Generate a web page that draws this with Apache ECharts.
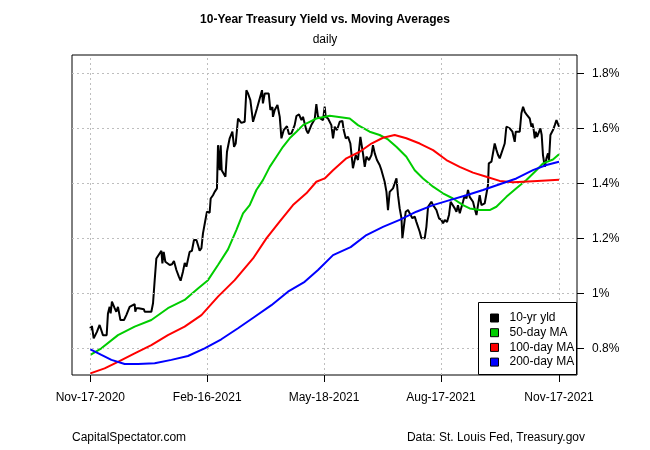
<!DOCTYPE html>
<html><head><meta charset="utf-8">
<script src="https://cdn.jsdelivr.net/npm/echarts@6/dist/echarts.min.js"></script>
<style>html,body{margin:0;padding:0;background:#fff}#c{width:650px;height:450px}</style>
</head><body><div id="c"></div>
<script>
// x values are calendar days since Nov-17-2020
const xTickDays = [0, 91, 182, 273, 365];
const xTickLabels = ['Nov-17-2020', 'Feb-16-2021', 'May-18-2021', 'Aug-17-2021', 'Nov-17-2021'];
const yTicks = [0.8, 1.0, 1.2, 1.4, 1.6, 1.8];
const seriesNames = ['10-yr yld', '50-day MA', '100-day MA', '200-day MA'];
const seriesColors = ['#000000', '#00cd00', '#ff0000', '#0000ff'];

const yld10 = [[0,0.879],[0.8,0.867],[1.2,0.882],[2.6,0.836],[5.1,0.860],[7.2,0.885],[8.6,0.885],[9.8,0.848],[12.7,0.848],[13.7,0.927],[15.0,0.951],[15.8,0.927],[16.8,0.970],[18.9,0.946],[20.2,0.933],[21.5,0.951],[23.4,0.903],[26.2,0.903],[28.0,0.921],[30.6,0.951],[31.9,0.957],[34.5,0.961],[35.0,0.933],[35.8,0.946],[37.6,0.946],[41.7,0.942],[42.3,0.933],[47.5,0.933],[48.8,0.964],[50.1,1.048],[51.4,1.127],[55.3,1.155],[56.1,1.109],[57.1,1.151],[58.4,1.115],[61.8,1.103],[63.6,1.106],[65.1,1.118],[67.0,1.085],[69.0,1.060],[70.3,1.046],[72.1,1.079],[73.5,1.111],[74.8,1.097],[76.0,1.095],[77.3,1.151],[79.1,1.155],[80.7,1.194],[82.6,1.194],[83.8,1.176],[85.1,1.155],[86.5,1.164],[87.7,1.218],[89.6,1.267],[90.8,1.297],[92.9,1.293],[93.7,1.345],[95.5,1.357],[96.8,1.369],[97.6,1.376],[98.6,1.382],[99.4,1.539],[100.7,1.448],[101.5,1.539],[102.3,1.448],[103.8,1.455],[105.2,1.424],[106.4,1.515],[108.5,1.564],[110.6,1.588],[111.9,1.533],[113.2,1.545],[115.0,1.636],[117.6,1.620],[120.2,1.624],[121.5,1.739],[122.8,1.727],[124.6,1.703],[126.7,1.624],[128.0,1.624],[129.8,1.673],[131.9,1.709],[133.7,1.739],[134.4,1.691],[135.8,1.727],[138.9,1.727],[140.2,1.667],[141.8,1.678],[142.2,1.642],[143.6,1.667],[145.7,1.685],[147.5,1.642],[148.8,1.564],[150.6,1.594],[153.1,1.608],[154.7,1.579],[156.6,1.582],[159.1,1.612],[160.5,1.645],[162.5,1.651],[164.4,1.630],[165.6,1.642],[166.9,1.618],[168.2,1.594],[169.5,1.582],[172.1,1.612],[174.7,1.633],[176.0,1.688],[177.3,1.642],[178.6,1.645],[181.2,1.630],[182.5,1.679],[183.3,1.642],[185.1,1.636],[187.7,1.612],[189.0,1.564],[190.3,1.606],[192.1,1.594],[194.2,1.624],[196.3,1.627],[197.3,1.594],[198.9,1.564],[200.7,1.569],[202.5,1.545],[204.5,1.455],[206.7,1.503],[208.4,1.485],[210.3,1.569],[212.3,1.509],[213.7,1.460],[215.0,1.497],[217.0,1.485],[218.9,1.503],[220.1,1.539],[221.5,1.509],[223.2,1.485],[225.3,1.467],[226.7,1.448],[229.2,1.406],[230.6,1.369],[231.8,1.303],[233.1,1.369],[234.5,1.364],[235.7,1.382],[237.0,1.400],[238.4,1.418],[239.6,1.357],[240.9,1.309],[242.3,1.273],[243.0,1.200],[244.0,1.236],[245.6,1.297],[247.4,1.303],[248.7,1.291],[250.8,1.273],[252.6,1.279],[253.9,1.260],[255.2,1.255],[256.5,1.224],[257.8,1.200],[260.4,1.200],[261.7,1.242],[263.0,1.315],[265.6,1.333],[266.9,1.321],[269.5,1.303],[271.5,1.273],[273.4,1.267],[274.7,1.255],[276.0,1.267],[277.8,1.260],[279.3,1.285],[280.6,1.333],[282.0,1.333],[283.8,1.309],[285.1,1.297],[286.3,1.321],[287.7,1.291],[289.0,1.297],[290.2,1.333],[291.6,1.357],[292.9,1.345],[294.1,1.376],[295.4,1.351],[296.8,1.357],[298.0,1.333],[299.3,1.309],[300.7,1.285],[301.9,1.321],[303.2,1.357],[304.6,1.321],[305.8,1.315],[307.1,1.327],[308.5,1.321],[309.7,1.394],[310.3,1.473],[312.4,1.479],[313.6,1.485],[314.9,1.545],[316.3,1.521],[317.5,1.503],[318.8,1.491],[320.1,1.491],[321.4,1.527],[322.7,1.545],[324.0,1.606],[326.6,1.600],[328.7,1.588],[329.7,1.582],[330.5,1.551],[331.3,1.588],[334.4,1.588],[335.7,1.655],[337.0,1.679],[338.3,1.660],[340.1,1.648],[342.2,1.636],[343.5,1.606],[344.3,1.618],[345.3,1.594],[346.1,1.564],[346.9,1.588],[347.9,1.569],[349.4,1.576],[350.5,1.600],[351.5,1.576],[352.5,1.503],[353.9,1.460],[355.2,1.491],[356.4,1.509],[357.2,1.485],[358.3,1.576],[360.3,1.594],[361.7,1.612],[363.0,1.630],[364.2,1.624],[365.0,1.606]];

const ma50 = [[0,0.776],[8.6,0.800],[21.5,0.848],[34.5,0.879],[47.5,0.903],[60.4,0.946],[73.4,0.976],[83.8,1.018],[91.6,1.048],[99.4,1.103],[107.2,1.160],[113.7,1.230],[118.9,1.291],[124.1,1.321],[129.3,1.376],[134.4,1.412],[139.7,1.460],[144.9,1.497],[150.0,1.533],[155.2,1.564],[160.5,1.588],[165.6,1.612],[170.8,1.624],[176.0,1.636],[186.4,1.646],[202.0,1.636],[208.4,1.612],[217.5,1.588],[225.3,1.576],[231.8,1.560],[238.3,1.533],[246.1,1.497],[252.6,1.448],[259.1,1.418],[266.9,1.388],[274.6,1.364],[282.4,1.345],[290.2,1.321],[295.4,1.309],[303.2,1.303],[311.0,1.303],[316.2,1.315],[324.0,1.351],[331.8,1.382],[339.6,1.412],[347.4,1.448],[352.5,1.473],[360.3,1.487],[365.0,1.506]];

const ma100 = [[0,0.709],[11.1,0.727],[21.5,0.751],[34.5,0.782],[47.5,0.812],[60.4,0.848],[73.4,0.879],[86.5,0.921],[99.4,0.988],[112.4,1.048],[126.7,1.127],[137.1,1.200],[147.4,1.261],[157.8,1.321],[168.2,1.364],[176.0,1.406],[182.5,1.418],[189.0,1.448],[199.4,1.491],[209.8,1.515],[218.9,1.545],[227.9,1.566],[237.0,1.576],[246.1,1.564],[256.5,1.545],[266.9,1.521],[277.3,1.485],[287.6,1.460],[298.0,1.439],[308.4,1.424],[318.8,1.409],[329.2,1.404],[344.7,1.408],[365.0,1.413]];

const ma200 = [[0,0.796],[8.6,0.776],[16.4,0.758],[26.7,0.743],[37.1,0.743],[50.1,0.746],[63.1,0.758],[76.0,0.772],[89.0,0.800],[102.0,0.833],[115.0,0.873],[128.0,0.915],[141.0,0.957],[153.9,1.006],[166.9,1.042],[177.3,1.085],[189.0,1.139],[202.7,1.168],[215.0,1.212],[227.9,1.242],[240.9,1.267],[253.9,1.297],[266.9,1.321],[279.9,1.339],[292.9,1.357],[305.8,1.376],[318.8,1.397],[331.8,1.418],[344.7,1.448],[355.2,1.467],[365.0,1.479]];

const FONT = '"Liberation Sans", Arial, Helvetica, sans-serif';
const chart = echarts.init(document.getElementById('c'), null, {renderer: 'canvas'});
const txt = (extra) => Object.assign({fontFamily: FONT, fontSize: 12, color: '#000', fontWeight: 'normal'}, extra || {});
const gridLineData = xTickDays.map(d => ({xAxis: d})).concat(yTicks.map(v => ({yAxis: v})));
const seriesData = [yld10, ma50, ma100, ma200];

const lineSeries = seriesData.map((d, i) => ({
  name: seriesNames[i], type: 'line', data: d, showSymbol: false, symbol: 'none',
  lineStyle: {color: seriesColors[i], width: 2}, itemStyle: {color: seriesColors[i]},
  z: 3 + i, silent: true, animation: false
}));

const option = {
  animation: false,
  backgroundColor: '#fff',
  textStyle: {fontFamily: FONT, color: '#000'},
  title: [
    {text: '10-Year Treasury Yield vs. Moving Averages', left: 'center', top: 14, padding: 0, textStyle: txt({fontWeight: 'bold'})},
    {text: 'daily', left: 'center', top: 34, padding: 0, textStyle: txt()},
    {text: 'CapitalSpectator.com', left: 72, top: 432, padding: 0, textStyle: txt()},
    {text: 'Data: St. Louis Fed, Treasury.gov', right: 65, top: 432, padding: 0, textStyle: txt()}
  ],
  grid: {left: 72, right: 73, top: 55, bottom: 75, show: true, borderColor: '#000', borderWidth: 1, backgroundColor: 'transparent', containLabel: false},
  xAxis: {
    type: 'value', min: -14.3, max: 379,
    axisLine: {show: false, onZero: false}, splitLine: {show: false},
    axisTick: {show: true, customValues: xTickDays, length: 7, inside: false, lineStyle: {color: '#000', width: 1}},
    axisLabel: {show: true, customValues: xTickDays, margin: 17, formatter: v => xTickLabels[xTickDays.indexOf(v)], ...txt()}
  },
  yAxis: {
    type: 'value', position: 'right', min: 0.703, max: 1.867,
    axisLine: {show: false, onZero: false}, splitLine: {show: false},
    axisTick: {show: true, customValues: yTicks, length: 7, inside: false, lineStyle: {color: '#000', width: 1}},
    axisLabel: {show: true, customValues: yTicks, margin: 15, align: 'left', formatter: v => parseFloat(v.toFixed(1)) + '%', ...txt()}
  },
  legend: {
    data: seriesNames, orient: 'vertical', left: 490, top: 311, padding: 0,
    itemWidth: 8, itemHeight: 8, itemGap: 0.7, icon: 'rect',
    itemStyle: {borderColor: '#000', borderWidth: 1},
    textStyle: txt({lineHeight: 14, padding: [0, 0, 0, 6]}),
    selectedMode: false, z: 10
  },
  graphic: [{
    type: 'rect', right: 73, bottom: 75, z: 9,
    shape: {width: 98, height: 72},
    style: {fill: '#fff', stroke: '#000', lineWidth: 1}
  }],
  series: [{
    name: 'grid', type: 'line', data: [], z: 1, silent: true,
    markLine: {silent: true, symbol: ['none', 'none'], label: {show: false}, animation: false,
      lineStyle: {color: '#bebebe', width: 1, type: [2, 3]}, emphasis: {disabled: true}, data: gridLineData}
  }].concat(lineSeries)
};
chart.setOption(option);
</script></body></html>
